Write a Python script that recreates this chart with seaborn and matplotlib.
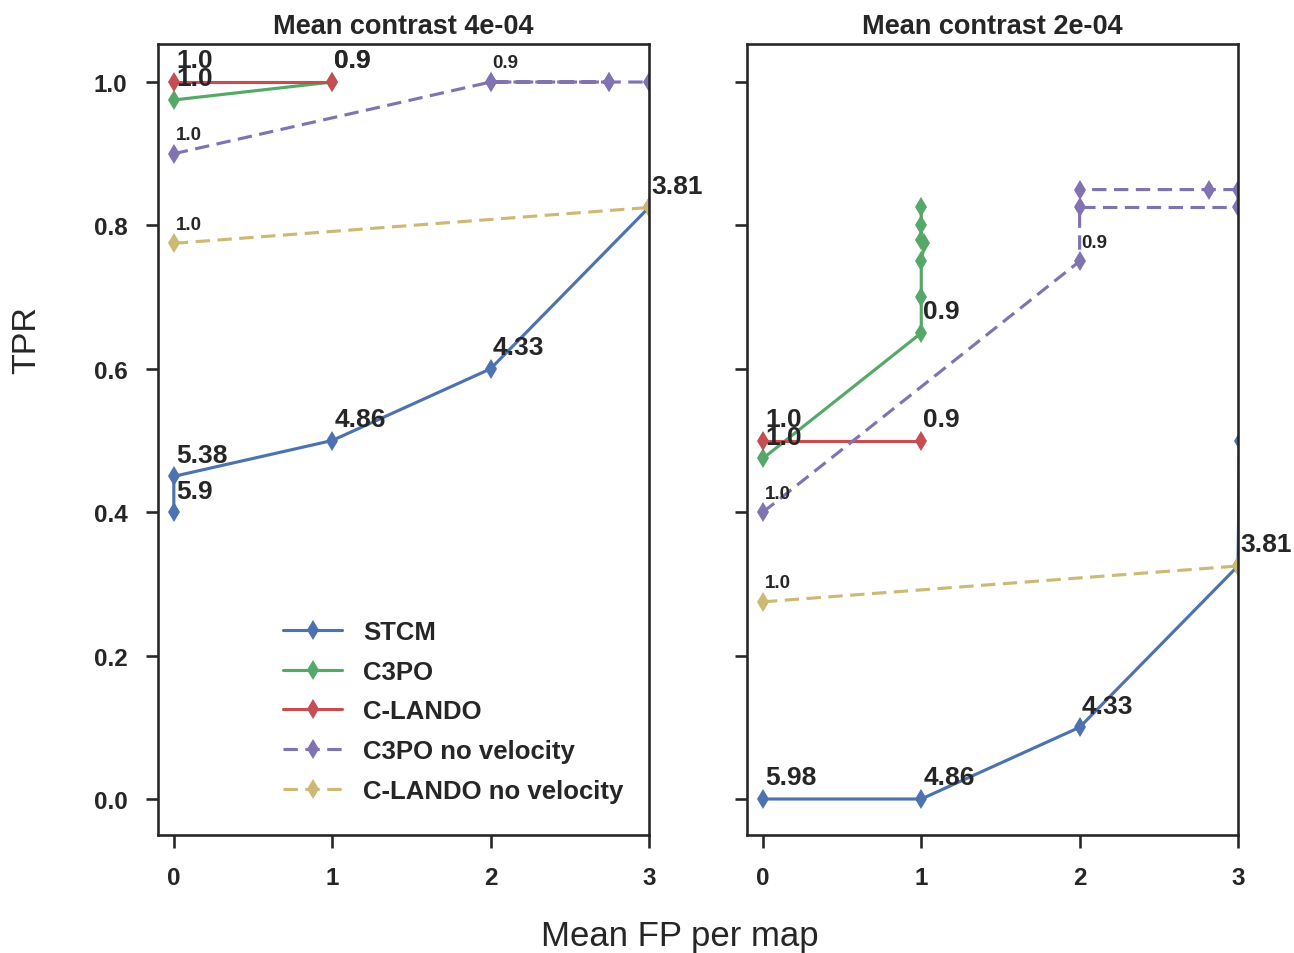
import matplotlib
matplotlib.use("Agg")
import matplotlib.pyplot as plt
import seaborn as sns

# ---- data -------------------------------------------------------------
titles = ["Mean contrast 4e-04", "Mean contrast 2e-04"]
methods = ["STCM", "C3PO", "C-LANDO", "C3PO no velocity", "C-LANDO no velocity"]
colors = ["#4C72B0", "#55A868", "#C44E52", "#8172B2", "#CCB974"]
styles = ["-", "-", "-", "--", "--"]

# contrast 4e-04
stcm_fp_a = [0, 0, 1, 2, 3]
stcm_tpr_a = [0.40, 0.45, 0.50, 0.60, 0.825]
stcm_thr_a = ["5.9", "5.38", "4.86", "4.33", "3.81"]

c3po_fp_a = [0, 1]
c3po_tpr_a = [0.975, 1.0]
c3po_thr_a = ["1.0", "0.9"]

clando_fp_a = [0, 1]
clando_tpr_a = [1.0, 1.0]
clando_thr_a = ["1.0", "0.9"]

c3po_nv_fp_a = [0, 2, 2.75, 2, 2.75, 3]
c3po_nv_tpr_a = [0.90, 1.0, 1.0, 1.0, 1.0, 1.0]
c3po_nv_thr_a = ["1.0", "0.9", "", "", "", ""]

clando_nv_fp_a = [0, 3]
clando_nv_tpr_a = [0.775, 0.825]
clando_nv_thr_a = ["1.0", ""]

# contrast 2e-04
stcm_fp_b = [0, 1, 2, 3, 3.01]
stcm_tpr_b = [0.0, 0.0, 0.10, 0.325, 0.50]
stcm_thr_b = ["5.98", "4.86", "4.33", "3.81", ""]

c3po_fp_b = [0, 1, 1, 1, 1.02, 1, 1, 1]
c3po_tpr_b = [0.475, 0.65, 0.70, 0.75, 0.775, 0.78, 0.80, 0.825]
c3po_thr_b = ["1.0", "0.9", "", "", "", "", "", ""]

clando_fp_b = [0, 1]
clando_tpr_b = [0.5, 0.5]
clando_thr_b = ["1.0", "0.9"]

c3po_nv_fp_b = [0, 2, 2, 3, 3, 2.82, 2]
c3po_nv_tpr_b = [0.40, 0.75, 0.825, 0.825, 0.85, 0.85, 0.85]
c3po_nv_thr_b = ["1.0", "0.9", "", "", "", "", ""]

clando_nv_fp_b = [0, 3]
clando_nv_tpr_b = [0.275, 0.325]
clando_nv_thr_b = ["1.0", ""]

panels = [
    [(stcm_fp_a, stcm_tpr_a, stcm_thr_a),
     (c3po_fp_a, c3po_tpr_a, c3po_thr_a),
     (clando_fp_a, clando_tpr_a, clando_thr_a),
     (c3po_nv_fp_a, c3po_nv_tpr_a, c3po_nv_thr_a),
     (clando_nv_fp_a, clando_nv_tpr_a, clando_nv_thr_a)],
    [(stcm_fp_b, stcm_tpr_b, stcm_thr_b),
     (c3po_fp_b, c3po_tpr_b, c3po_thr_b),
     (clando_fp_b, clando_tpr_b, clando_thr_b),
     (c3po_nv_fp_b, c3po_nv_tpr_b, c3po_nv_thr_b),
     (clando_nv_fp_b, clando_nv_tpr_b, clando_nv_thr_b)],
]

x_ticks = [0, 1, 2, 3]
y_ticks = [0.0, 0.2, 0.4, 0.6, 0.8, 1.0]

# ---- style ------------------------------------------------------------
sns.set_theme(style="ticks", context="talk")
plt.rcParams["font.family"] = ["Liberation Sans", "DejaVu Sans"]
plt.rcParams["font.weight"] = "bold"

fig, axes = plt.subplots(1, 2, figsize=(12.94, 9.54), dpi=100, sharey=True)
fig.subplots_adjust(left=0.1221, right=0.9567, bottom=0.1237, top=0.9528, wspace=0.2)

for ax, title, series in zip(axes, titles, panels):
    for (fp, tpr, thr), name, col, ls in zip(series, methods, colors, styles):
        sns.lineplot(x=fp, y=tpr, ax=ax, sort=False, estimator=None,
                     color=col, linestyle=ls, marker="d", markersize=10,
                     mec=col, mew=0, label=name, legend=False)
        small = ls == "--"
        if small:
            ax.lines[-1].set_dashes((4.6, 2.4))
        for xv, yv, t in zip(fp, tpr, thr):
            if t:
                ax.annotate(t, (xv, yv), xytext=(1.5, 10.5), textcoords="offset points",
                            ha="left", va="baseline", fontweight="bold",
                            fontsize=13.5 if small else 19, color=".15")
    ax.set_title(title, fontsize=19.5, fontweight="bold", pad=8)
    ax.set_xlim(-0.1, 3)
    ax.set_ylim(-0.0502, 1.053)
    ax.set_xticks(x_ticks)
    ax.set_yticks(y_ticks)
    ax.set_yticklabels([f"{v:.1f}" for v in y_ticks])
    ax.tick_params(labelsize=17.5, pad=13, length=9)
    ax.set_xlabel("")
    ax.set_ylabel("")
    for lab in ax.get_xticklabels() + ax.get_yticklabels():
        lab.set_fontweight("bold")

axes[0].legend(loc="lower left", bbox_to_anchor=(0.255, 0.04), frameon=False,
               fontsize=18.5, handlelength=2.3, handletextpad=0.8,
               labelspacing=0.62, borderpad=0, borderaxespad=0, numpoints=1)

fig.text(0.5255, 1 - 937 / 954, "Mean FP per map", ha="center", va="center",
         fontsize=25, fontweight="normal", color=".15")
fig.text(0.021, 1 - 340 / 954, "TPR", ha="center", va="center", rotation=90,
         fontsize=24.5, fontweight="normal", color=".15")

fig.savefig("out.png", dpi=100)
